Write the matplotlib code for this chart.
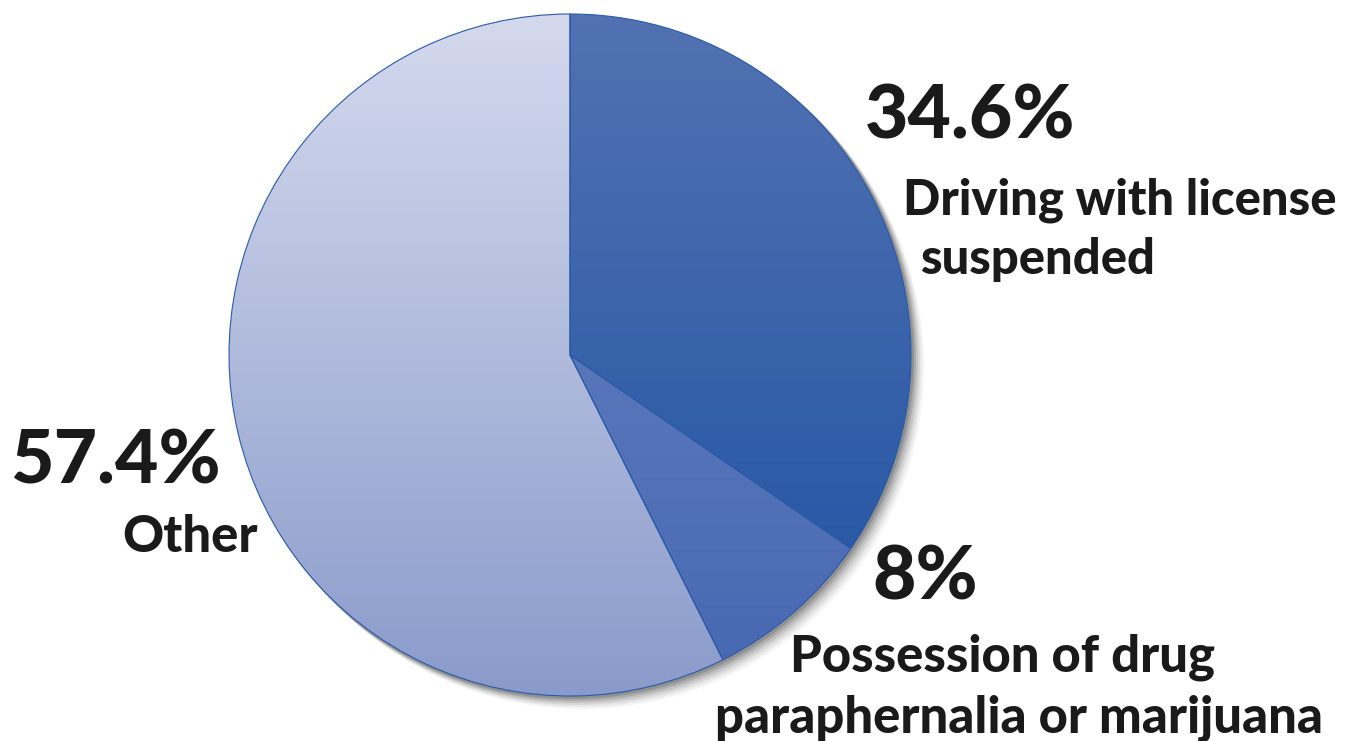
import numpy as np
import matplotlib
matplotlib.use("Agg")
import matplotlib.pyplot as plt
from matplotlib.colors import LinearSegmentedColormap
from matplotlib.patches import Circle

# data
labels = ["Driving with license\nsuspended", "Possession of drug\nparaphernalia or marijuana", "Other"]
shares = [34.6, 8.0, 57.4]
pct_text = ["34.6%", "8%", "57.4%"]
# gradient colours (top, bottom) for each slice
grad_top = ["#5272b2", "#6c84c2", "#d4d9ed"]
grad_bot = ["#1e52a2", "#4668b2", "#8a9bcb"]

W, H = 1348, 741
cx, cy, r = 570, 741 - 355, 341

plt.rcParams['font.family'] = ['Lato', 'DejaVu Sans']

fig = plt.figure(figsize=(W / 100, H / 100), dpi=100)
ax = fig.add_axes([0, 0, 1, 1])
ax.set_xlim(0, W)
ax.set_ylim(0, H)
ax.set_aspect('equal')
ax.axis('off')

# soft shadow behind the pie
for k, a in enumerate([0.04, 0.05, 0.07, 0.09, 0.12, 0.15]):
  off = 12 - 2 * k
  ax.add_patch(Circle((cx + off, cy - off), r + 1, color='black', alpha=a, lw=0, zorder=1))

wedges, _ = ax.pie(shares, startangle=90, counterclock=False, center=(cx, cy), radius=r,
                   frame=True, wedgeprops=dict(edgecolor='#2a5aa8', linewidth=0.8))
ax.set_xlim(0, W)
ax.set_ylim(0, H)
ax.axis('off')

for i, w in enumerate(wedges):
  w.set_facecolor('none')
  w.set_zorder(3)
  cmap = LinearSegmentedColormap.from_list("g%d" % i, [grad_bot[i], grad_top[i]])
  grad = np.linspace(0, 1, 256).reshape(-1, 1)
  im = ax.imshow(grad, cmap=cmap, origin='lower', aspect='auto',
                 extent=(cx - r, cx + r, cy - r, cy + r), zorder=2)
  im.set_clip_path(w)

# labels
fw = 'black'
big, small = 54, 36.5
c = '#1a1a1a'
ax.text(865, H - 117, pct_text[0], fontsize=big, fontweight=fw, va='center', ha='left', color=c)
ax.text(903, H - 200, "Driving with license", fontsize=35.3, fontweight=fw, va='center', ha='left', color=c)
ax.text(920, H - 260, "suspended", fontsize=35.3, fontweight=fw, va='center', ha='left', color=c)

ax.text(10, H - 462, pct_text[2], fontsize=big, fontweight=fw, va='center', ha='left', color=c)
ax.text(122, H - 538, "Other", fontsize=small, fontweight=fw, va='center', ha='left', color=c)

ax.text(872, H - 578, pct_text[1], fontsize=big, fontweight=fw, va='center', ha='left', color=c)
ax.text(790, H - 657, "Possession of drug", fontsize=small, fontweight=fw, va='center', ha='left', color=c)
ax.text(715, H - 718, "paraphernalia or marijuana", fontsize=small, fontweight=fw, va='center', ha='left', color=c)

fig.savefig("out.png", dpi=100, facecolor='white')
